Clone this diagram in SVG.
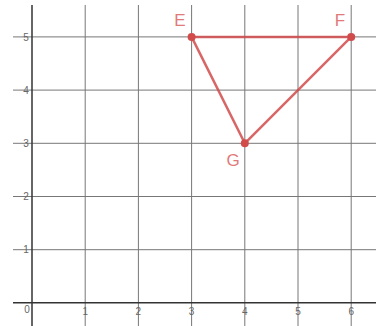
<svg xmlns="http://www.w3.org/2000/svg" width="376" height="326" viewBox="0 0 376 326">
<style>
.g{stroke:#777;stroke-width:1;fill:none}
.gl{stroke:#aaa;stroke-width:1;fill:none}
.ax{stroke:#333;stroke-width:1.5;fill:none}
.n{font-family:"Liberation Sans",Arial,sans-serif;font-size:10px;fill:#666}
.seg{stroke:#d24b4b;stroke-width:2.5;stroke-opacity:0.85;fill:none;stroke-linecap:round}
.pt{fill:#d24b4b}
.lb{font-family:"Liberation Sans",Arial,sans-serif;font-size:17px;fill:#e07a7a}
</style>
<rect width="376" height="326" fill="#fff"/>
<g id="grid">
<line class="g" x1="85.2" y1="5" x2="85.2" y2="326"/>
<line class="g" x1="138.4" y1="5" x2="138.4" y2="326"/>
<line class="g" x1="191.6" y1="5" x2="191.6" y2="326"/>
<line class="g" x1="244.8" y1="5" x2="244.8" y2="326"/>
<line class="g" x1="298" y1="5" x2="298" y2="326"/>
<line class="g" x1="351.2" y1="5" x2="351.2" y2="326"/>
<line class="g" x1="13" y1="249.7" x2="376" y2="249.7"/>
<line class="g" x1="13" y1="196.5" x2="376" y2="196.5"/>
<line class="g" x1="13" y1="143.3" x2="376" y2="143.3"/>
<line class="g" x1="13" y1="90.1" x2="376" y2="90.1"/>
<line class="g" x1="13" y1="36.9" x2="376" y2="36.9"/>
<line class="ax" x1="32" y1="5" x2="32" y2="326"/>
<line class="ax" x1="13" y1="302.8" x2="376" y2="302.8"/>
<text class="n" x="27" y="313" text-anchor="middle">0</text>
<text class="n" x="85.2" y="315" text-anchor="middle">1</text>
<text class="n" x="138.4" y="315" text-anchor="middle">2</text>
<text class="n" x="191.6" y="315" text-anchor="middle">3</text>
<text class="n" x="244.8" y="315" text-anchor="middle">4</text>
<text class="n" x="298" y="315" text-anchor="middle">5</text>
<text class="n" x="351.2" y="315" text-anchor="middle">6</text>
<text class="n" x="26" y="253.3" text-anchor="middle">1</text>
<text class="n" x="26" y="200.1" text-anchor="middle">2</text>
<text class="n" x="26" y="146.9" text-anchor="middle">3</text>
<text class="n" x="26" y="93.7" text-anchor="middle">4</text>
<text class="n" x="26" y="40.5" text-anchor="middle">5</text>
</g>
<g id="connectors">
<line class="seg" x1="191.6" y1="36.9" x2="351.2" y2="36.9"/>
<line class="seg" x1="351.2" y1="36.9" x2="244.8" y2="143.3"/>
<line class="seg" x1="244.8" y1="143.3" x2="191.6" y2="36.9"/>
</g>
<g id="E"><circle class="pt" cx="191.6" cy="36.9" r="4"/><text class="lb" x="180" y="26" text-anchor="middle">E</text></g>
<g id="F"><circle class="pt" cx="351.2" cy="36.9" r="4"/><text class="lb" x="340" y="26" text-anchor="middle">F</text></g>
<g id="G"><circle class="pt" cx="244.8" cy="143.3" r="4"/><text class="lb" x="233" y="166" text-anchor="middle">G</text></g>
</svg>
